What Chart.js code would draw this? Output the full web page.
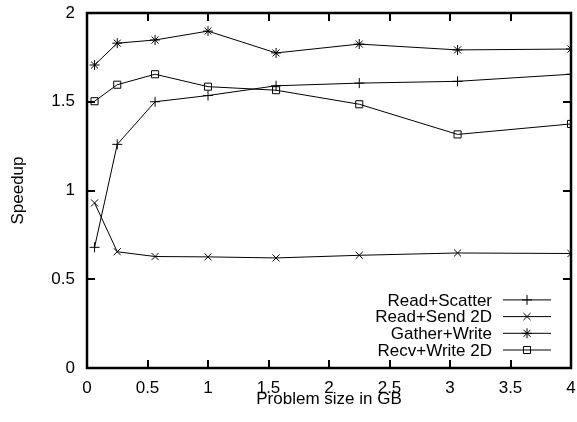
<!DOCTYPE html>
<html>
<head>
<meta charset="utf-8">
<script src="https://cdn.jsdelivr.net/npm/chart.js@4.4.1/dist/chart.umd.min.js"></script>
<style>
  html, body { margin: 0; padding: 0; background: #fff; }
  #wrap { width: 577px; height: 422px; }
</style>
</head>
<body>
<div id="wrap"><canvas id="speedupChart"></canvas></div>
<script>
// Problem sizes (GB)
const sizes = [0.0625, 0.25, 0.5625, 1, 1.5625, 2.25, 3.0625, 4];

// Speedup per series
const readScatter = [0.68, 1.26, 1.50, 1.535, 1.59, 1.605, 1.615, 1.655];
const readSend2D = [0.93, 0.655, 0.628, 0.626, 0.62, 0.635, 0.648, 0.645];
const gatherWrite = [1.707, 1.83, 1.848, 1.898, 1.775, 1.825, 1.792, 1.797];
const recvWrite2D = [1.503, 1.596, 1.655, 1.585, 1.565, 1.486, 1.316, 1.375];

const seriesNames = ["Read+Scatter", "Read+Send 2D", "Gather+Write", "Recv+Write 2D"];
const seriesMarks = ["cross", "crossRot", "star", "rect"];

const xTicks = [0, 0.5, 1, 1.5, 2, 2.5, 3, 3.5, 4];
const yTicks = [0, 0.5, 1, 1.5, 2];

const FONT = "Liberation Sans, Arial, Helvetica, sans-serif";
const FONT_SIZE = 17;

// where the plot frame should sit on the page
const PLOT_TOP = 13;
const PLOT_RIGHT = 571;

function toPoints(values) {
  return values.map((v, i) => ({ x: sizes[i], y: v }));
}

// Frame with inward ticks on all four sides, gnuplot style
const frameTicks = {
  id: "frameTicks",
  afterDraw(chart) {
    const { ctx, chartArea: a } = chart;
    const sx = chart.scales.x;
    const sy = chart.scales.y;
    const len = 8;
    ctx.save();
    ctx.strokeStyle = "#000";
    ctx.lineWidth = 2;
    for (const t of xTicks) {
      const px = Math.round(sx.getPixelForValue(t));
      ctx.beginPath();
      ctx.moveTo(px, a.bottom - len);
      ctx.lineTo(px, a.bottom);
      ctx.stroke();
      ctx.beginPath();
      ctx.moveTo(px, a.top);
      ctx.lineTo(px, a.top + len);
      ctx.stroke();
    }
    for (const t of yTicks) {
      const py = Math.round(sy.getPixelForValue(t));
      ctx.beginPath();
      ctx.moveTo(a.left, py);
      ctx.lineTo(a.left + len, py);
      ctx.stroke();
      ctx.beginPath();
      ctx.moveTo(a.right - len, py);
      ctx.lineTo(a.right, py);
      ctx.stroke();
    }
    ctx.lineWidth = 2.5;
    ctx.strokeRect(a.left, a.top, a.right - a.left, a.bottom - a.top);
    ctx.restore();
  },
};

// Key in the lower right of the plot
const insideKey = {
  id: "insideKey",
  afterDraw(chart) {
    const { ctx, chartArea: a } = chart;
    const rowH = 16.7;
    const lineEnd = a.right - 20;
    const lineStart = lineEnd - 48;
    const textRight = lineStart - 11;
    ctx.save();
    ctx.font = FONT_SIZE + "px " + FONT;
    ctx.textAlign = "right";
    ctx.textBaseline = "middle";
    seriesNames.forEach((name, i) => {
      const y = a.bottom - 18 - (seriesNames.length - 1 - i) * rowH;
      ctx.fillStyle = "#000";
      ctx.fillText(name, textRight, y + 1);
      ctx.strokeStyle = "#000";
      ctx.lineWidth = 1;
      ctx.beginPath();
      ctx.moveTo(lineStart, y);
      ctx.lineTo(lineEnd, y);
      ctx.stroke();
      ctx.fillStyle = "rgba(0,0,0,0)";
      Chart.helpers.drawPoint(ctx, {
        pointStyle: seriesMarks[i],
        radius: 5,
        rotation: 0,
        borderWidth: 1,
      }, (lineStart + lineEnd) / 2, y);
    });
    ctx.restore();
  },
};

const datasets = [readScatter, readSend2D, gatherWrite, recvWrite2D].map((vals, i) => ({
  label: seriesNames[i],
  data: toPoints(vals),
  borderColor: "#000",
  backgroundColor: "rgba(0,0,0,0)",
  borderWidth: 1,
  pointStyle: seriesMarks[i],
  pointRadius: 5,
  pointBorderWidth: 1,
  pointBorderColor: "#000",
  pointBackgroundColor: "rgba(0,0,0,0)",
  tension: 0,
  fill: false,
}));

const pad = { top: 13, right: 6, bottom: 0, left: 0 };

const chart = new Chart(document.getElementById("speedupChart"), {
  type: "line",
  data: { datasets: datasets },
  options: {
    responsive: true,
    maintainAspectRatio: false,
    animation: false,
    events: [],
    layout: {
      autoPadding: false,
      padding: { ...pad },
    },
    plugins: {
      legend: { display: false },
      tooltip: { enabled: false },
    },
    scales: {
      x: {
        type: "linear",
        min: 0,
        max: 4,
        afterBuildTicks: (scale) => {
          scale.ticks = xTicks.map((v) => ({ value: v }));
        },
        afterFit: (scale) => {
          scale.height = 54;
          scale.paddingLeft = 0;
          scale.paddingRight = 0;
        },
        grid: { display: false, drawTicks: false },
        border: { display: false },
        ticks: {
          color: "#000",
          padding: 12,
          maxRotation: 0,
          font: { family: FONT, size: FONT_SIZE, lineHeight: 1 },
          callback: (value) => String(value),
        },
        title: {
          display: true,
          text: "Problem size in GB",
          color: "#000",
          padding: { top: 0, bottom: 14 },
          font: { family: FONT, size: FONT_SIZE, lineHeight: 1 },
        },
      },
      y: {
        min: 0,
        max: 2,
        afterBuildTicks: (scale) => {
          scale.ticks = yTicks.map((v) => ({ value: v }));
        },
        afterFit: (scale) => {
          scale.width = 87;
          scale.paddingTop = 0;
          scale.paddingBottom = 0;
        },
        grid: { display: false, drawTicks: false },
        border: { display: false },
        ticks: {
          color: "#000",
          padding: 12,
          font: { family: FONT, size: FONT_SIZE, lineHeight: 1 },
          callback: (value) => String(value),
        },
        title: {
          display: true,
          text: "Speedup",
          color: "#000",
          padding: { top: 10, bottom: 0 },
          font: { family: FONT, size: FONT_SIZE, lineHeight: 1 },
        },
      },
    },
  },
  plugins: [frameTicks, insideKey],
});

// Nudge padding so the frame lands where the original has it
for (let i = 0; i < 3; i++) {
  const a = chart.chartArea;
  if (!a) break;
  const dTop = PLOT_TOP - a.top;
  const dRight = a.right - PLOT_RIGHT;
  if (Math.abs(dTop) < 0.5 && Math.abs(dRight) < 0.5) break;
  pad.top += dTop;
  pad.right += dRight;
  chart.options.layout.padding.top = pad.top;
  chart.options.layout.padding.right = pad.right;
  chart.update();
}
</script>
</body>
</html>
